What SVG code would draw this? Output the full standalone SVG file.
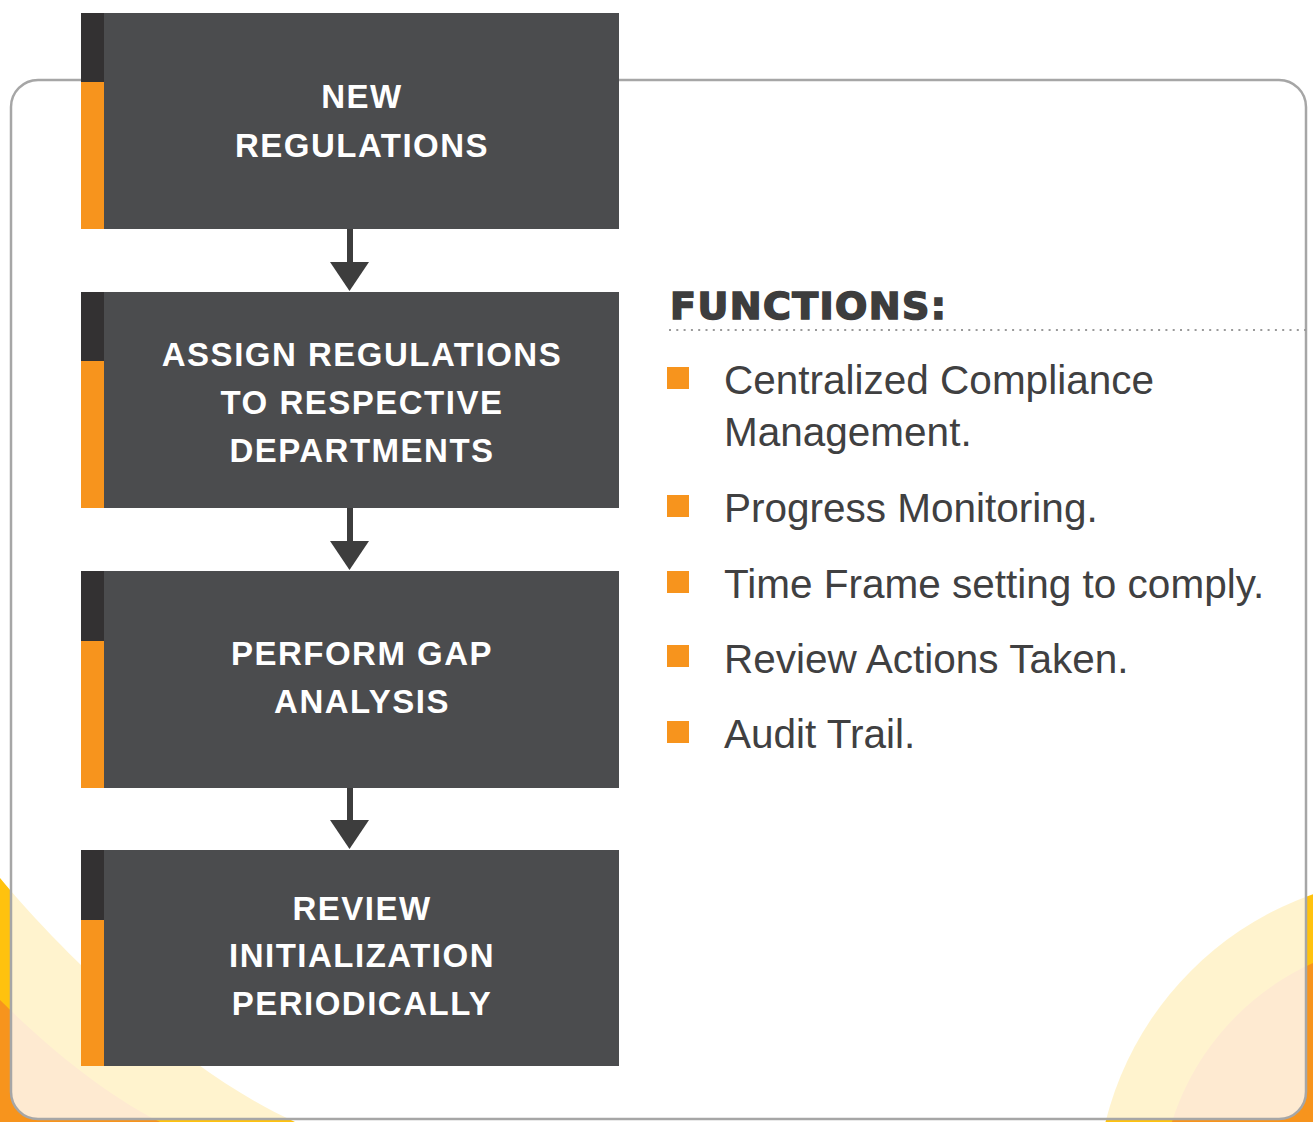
<svg xmlns="http://www.w3.org/2000/svg" width="1313" height="1122" viewBox="0 0 1313 1122">
<style>
.body{fill:#4b4c4e}
.dark{fill:#333132}
.acc{fill:#f7941d}
.lbl{font-family:"Liberation Sans",Arial,sans-serif;font-weight:bold;font-size:33px;fill:#ffffff;text-anchor:middle;letter-spacing:1.5px}
.item{font-family:"Liberation Sans",Arial,sans-serif;font-size:40.5px;fill:#404041}
.bul{fill:#f7941d}
.conn line{stroke:#3d3d3d;stroke-width:6}
.conn polygon{fill:#3d3d3d}
</style>
<rect width="1313" height="1122" fill="#ffffff"/>
<g id="decor">
  <path d="M0,878 C60,950 180,1070 295,1122 L0,1122 Z" fill="#ffc20e"/>
  <path d="M0,1000 C40,1040 100,1092 160,1122 L0,1122 Z" fill="#f7941d"/>
  <circle cx="1420" cy="1200" r="324" fill="#ffc20e"/>
  <circle cx="1420" cy="1200" r="260" fill="#f7941d"/>
</g>
<rect id="panel" x="11" y="80" width="1295" height="1039" rx="27" ry="27" fill="#ffffff" fill-opacity="0.8" stroke="#a6a6a6" stroke-width="2.5"/>
<g class="conn" id="connectors">
  <line x1="350" y1="229" x2="350" y2="264"/>
  <polygon points="330,262 369,262 349.5,291"/>
  <line x1="350" y1="508" x2="350" y2="543"/>
  <polygon points="330,541 369,541 349.5,570"/>
  <line x1="350" y1="788" x2="350" y2="822"/>
  <polygon points="330,820 369,820 349.5,849"/>
</g>
<g id="node1">
  <rect class="body" x="104" y="13" width="515" height="216"/>
  <rect class="dark" x="81" y="13" width="23" height="69"/>
  <rect class="acc" x="81" y="82" width="23" height="147"/>
  <text class="lbl" x="362" y="108">NEW</text>
  <text class="lbl" x="362" y="157">REGULATIONS</text>
</g>
<g id="node2">
  <rect class="body" x="104" y="292" width="515" height="216"/>
  <rect class="dark" x="81" y="292" width="23" height="69"/>
  <rect class="acc" x="81" y="361" width="23" height="147"/>
  <text class="lbl" x="362" y="366">ASSIGN REGULATIONS</text>
  <text class="lbl" x="362" y="414">TO RESPECTIVE</text>
  <text class="lbl" x="362" y="462">DEPARTMENTS</text>
</g>
<g id="node3">
  <rect class="body" x="104" y="571" width="515" height="217"/>
  <rect class="dark" x="81" y="571" width="23" height="70"/>
  <rect class="acc" x="81" y="641" width="23" height="147"/>
  <text class="lbl" x="362" y="665">PERFORM GAP</text>
  <text class="lbl" x="362" y="713">ANALYSIS</text>
</g>
<g id="node4">
  <rect class="body" x="104" y="850" width="515" height="216"/>
  <rect class="dark" x="81" y="850" width="23" height="70"/>
  <rect class="acc" x="81" y="920" width="23" height="146"/>
  <text class="lbl" x="362" y="920">REVIEW</text>
  <text class="lbl" x="362" y="967">INITIALIZATION</text>
  <text class="lbl" x="362" y="1015">PERIODICALLY</text>
</g>
<g id="functions">
  <text x="670" y="319" font-family="'DejaVu Sans',sans-serif" font-weight="bold" font-size="38" fill="#3d3d3d" stroke="#3d3d3d" stroke-width="1.6" textLength="276" lengthAdjust="spacing">FUNCTIONS:</text>
  <line x1="669" y1="330" x2="1306" y2="330" stroke="#9a9a9a" stroke-width="2" stroke-dasharray="2 5.3"/>
  <rect class="bul" x="667" y="367" width="22" height="22"/>
  <text class="item" x="724" y="394">Centralized Compliance</text>
  <text class="item" x="724" y="446">Management.</text>
  <rect class="bul" x="667" y="495" width="22" height="22"/>
  <text class="item" x="724" y="522">Progress Monitoring.</text>
  <rect class="bul" x="667" y="571" width="22" height="22"/>
  <text class="item" x="724" y="598">Time Frame setting to comply.</text>
  <rect class="bul" x="667" y="645" width="22" height="22"/>
  <text class="item" x="724" y="673">Review Actions Taken.</text>
  <rect class="bul" x="667" y="721" width="22" height="22"/>
  <text class="item" x="724" y="748">Audit Trail.</text>
</g>
</svg>
